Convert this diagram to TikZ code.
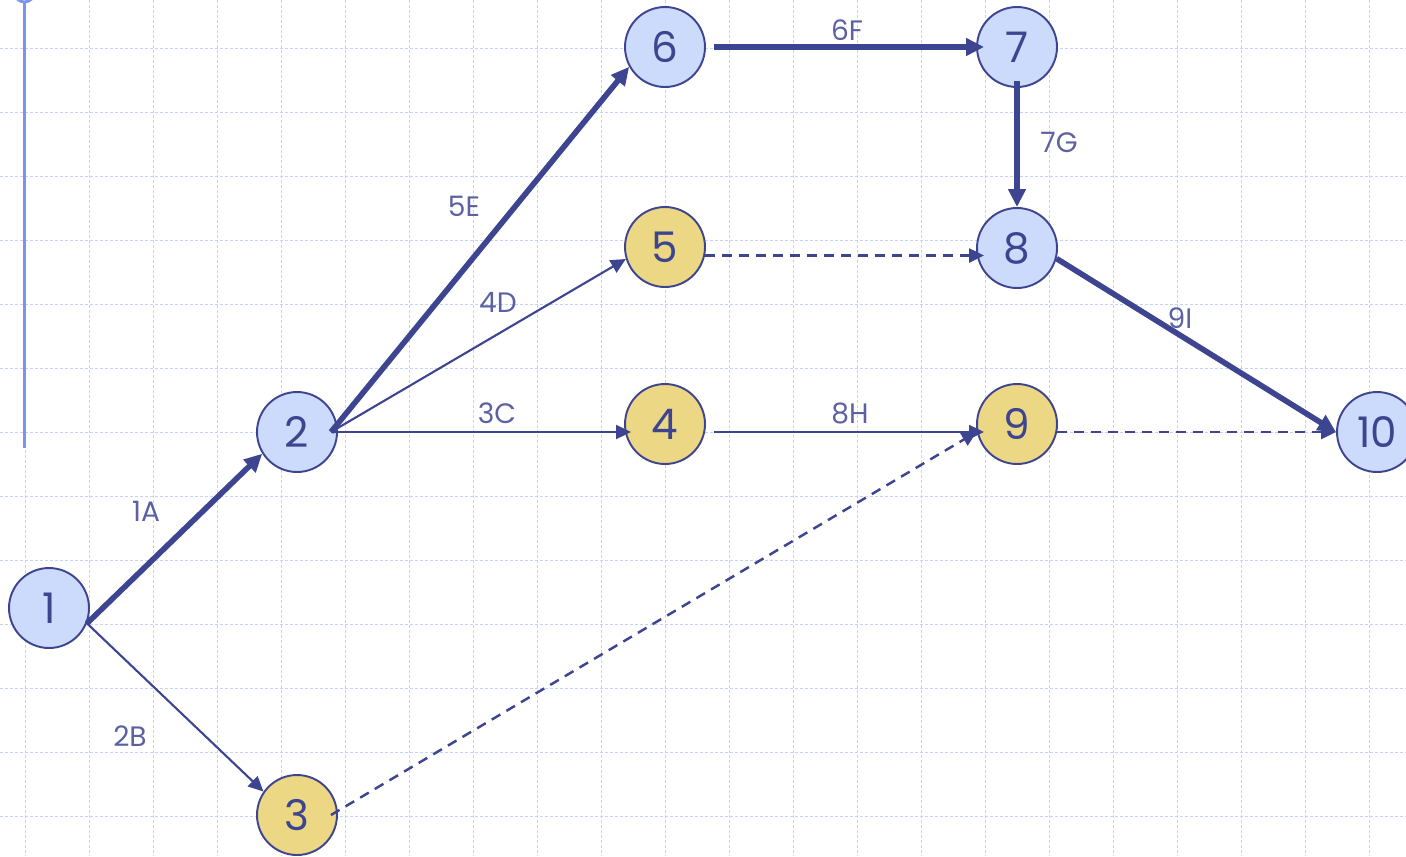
\documentclass[tikz,border=0pt]{standalone}
\usepackage{fontspec}
\setmainfont{Poppins}
\usetikzlibrary{arrows.meta}
\definecolor{navy}{HTML}{3E4590}
\definecolor{evblue}{HTML}{CCDBFB}
\definecolor{evyellow}{HTML}{EBD784}
\definecolor{gridblue}{HTML}{C6D2F6}
\definecolor{railblue}{HTML}{7B95EE}

\tikzset{
    evt/.style={circle, draw=navy, line width=1.1pt, minimum size=1.6cm, inner sep=0pt,
                text=navy, font=\fontsize{24}{28}\selectfont},
    evtb/.style={evt, fill=evblue},
    evty/.style={evt, fill=evyellow},
    lbl/.style={text=navy!85, font=\fontsize{16}{19}\selectfont, inner sep=0pt},
    crit/.style={navy, line width=3.2pt, -{Triangle[length=3.6mm, width=3.4mm]}},
    act/.style={navy, line width=1.2pt, -{Triangle[length=3mm, width=2.8mm]}},
    dummy/.style={act, line width=1.4pt, dash pattern=on 2mm off 1.4mm},
    gridline/.style={gridblue, line width=0.55pt, dash pattern=on 0.6mm off 0.4mm}
}

\begin{document}
\begin{tikzpicture}[x=0.02cm, y=-0.02cm]
    \useasboundingbox (0,0) rectangle (1406,856);
    \clip (0,0) rectangle (1406,856);

    % background grid
    \foreach \gx in {25,89,...,1401}
        \draw [gridline] (\gx,0) -- (\gx,856);
    \foreach \gy in {48,112,...,816}
        \draw [gridline] (0,\gy) -- (1406,\gy);
    \draw [railblue, line width=1.6pt] (24.5,-8) circle (10);
    \draw [railblue, line width=1.6pt] (24.5,2) -- (24.5,448);

    % events
    \node [evtb] (n1)  at (49,608)   {1};
    \node [evtb] (n2)  at (297,432)  {2};
    \node [evty] (n3)  at (297,815)  {3};
    \node [evty] (n4)  at (665,424)  {4};
    \node [evty] (n5)  at (665,247)  {5};
    \node [evtb] (n6)  at (665,47)   {6};
    \node [evtb] (n7)  at (1017,47)  {7};
    \node [evtb] (n8)  at (1017,248) {8};
    \node [evty] (n9)  at (1017,424) {9};
    \node [evtb] (n10) at (1377,432) {10};

    % activities
    \draw [crit]  (n1.-22) -- (n2.212);
    \draw [act]   (n1.-22) -- (n3.145);
    \draw [crit]  ([xshift=-1.4mm]n2.east) -- (n6.209);
    \draw [act]   ([xshift=-1.4mm]n2.east) -- (n5.197);
    \draw [act]   ([xshift=-1.4mm]n2.east) -- ([xshift=1.4mm]n2.east -| n4.west);
    \draw [dummy] ([xshift=-1.4mm]n3.east) -- (n9.191);
    \draw [act]   ([xshift=1.6mm]n4.east |- n2.east) -- ([xshift=1.6mm]n2.east -| n9.west);
    \draw [dummy] (n5.-12) -- ([xshift=1.6mm]n5.-12 -| n8.west);
    \draw [crit]  ([xshift=1.6mm]n6.east) -- ([xshift=1.6mm]n7.west);
    \draw [crit]  ([yshift=1.4mm]n7.south) -- (n8.north);
    \draw [crit]  (n8.-15) -- (n10.west);
    \draw [dummy] (n9.-14 |- n10.west) -- (n10.west);

    % activity labels
    \node [lbl] (l1A) at (146,511)  {1A};
    \node [lbl] (l2B) at (130,736)  {2B};
    \node [lbl] (l3C) at (497,413)  {3C};
    \node [lbl] (l4D) at (498,302)  {4D};
    \node [lbl] (l5E) at (464,206)  {5E};
    \node [lbl] (l6F) at (847,30)   {6F};
    \node [lbl] (l7G) at (1059,142) {7G};
    \node [lbl] (l8H) at (850,413)  {8H};
    \node [lbl] (l9I) at (1180,318) {9I};
\end{tikzpicture}
\end{document}
